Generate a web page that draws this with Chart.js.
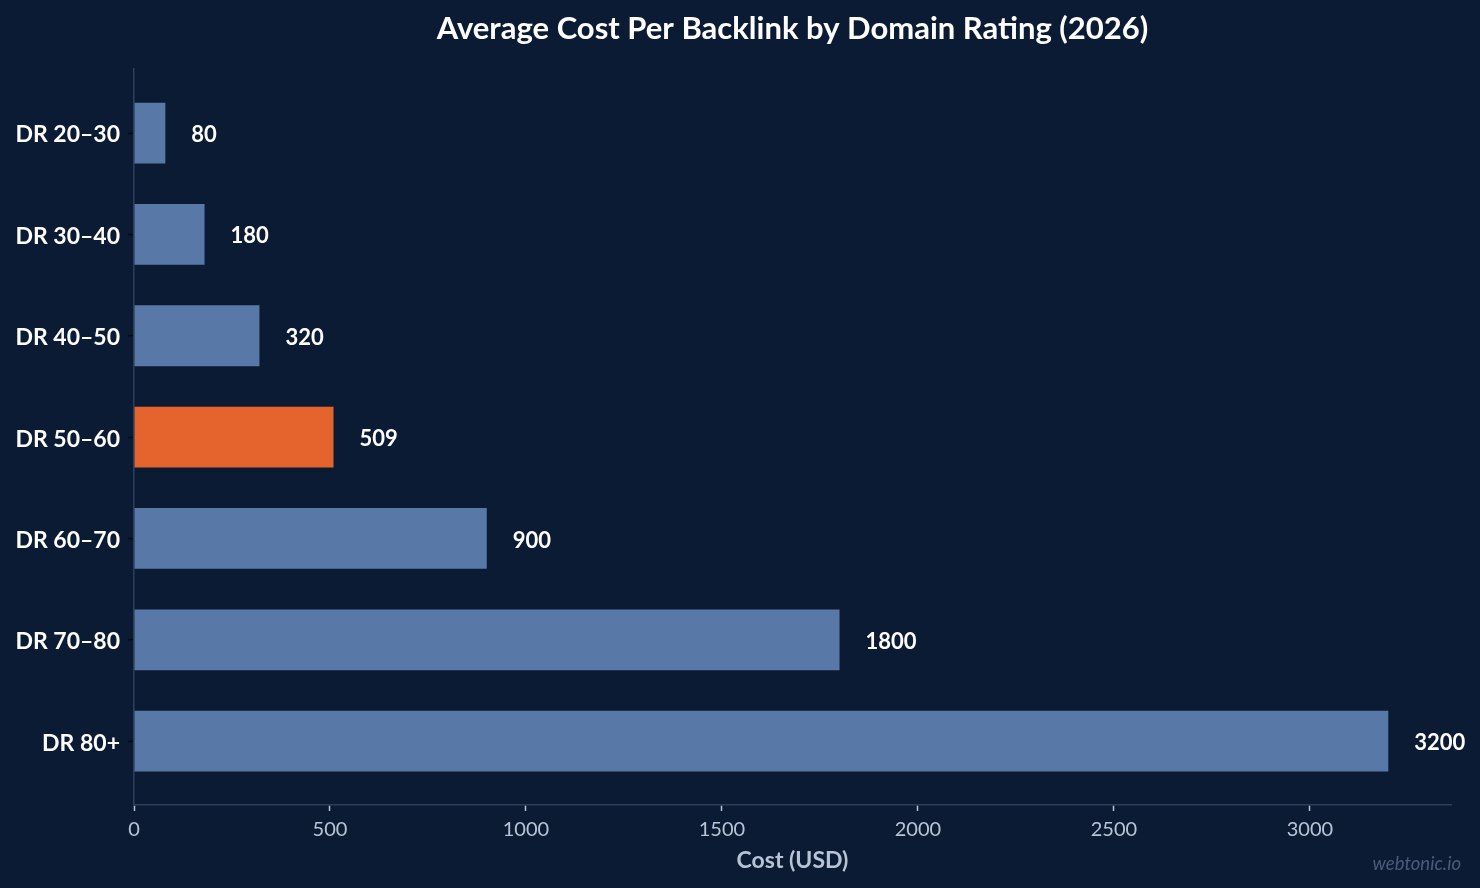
<!DOCTYPE html>
<html>
<head>
<meta charset="utf-8">
<script src="https://cdn.jsdelivr.net/npm/chart.js@4/dist/chart.umd.min.js"></script>
<style>
  html, body { margin: 0; padding: 0; background: #0c1b34; }
  #wrap { width: 1480px; height: 888px; position: relative; }
</style>
</head>
<body>
<div id="wrap"><canvas id="c" width="1480" height="888"></canvas></div>
<script>
const categories = ["DR 20–30", "DR 30–40", "DR 40–50", "DR 50–60", "DR 60–70", "DR 70–80", "DR 80+"];
const costs = [80, 180, 320, 509, 900, 1800, 3200];
const highlightIndex = 3;
const xTicks = [0, 500, 1000, 1500, 2000, 2500, 3000];
const xMax = 3360;

const BAR = '#5878a8';
const HIGHLIGHT = '#e5632c';
const FONT = 'Lato, "Open Sans", sans-serif';

const valueLabels = {
  id: 'valueLabels',
  afterDatasetsDraw(chart) {
    const ctx = chart.ctx;
    const meta = chart.getDatasetMeta(0);
    ctx.save();
    ctx.font = 'bold 22px ' + FONT;
    ctx.fillStyle = '#ffffff';
    ctx.textAlign = 'left';
    ctx.textBaseline = 'middle';
    meta.data.forEach((bar, i) => {
      ctx.fillText(String(costs[i]), bar.x + 26, bar.y + 2);
    });
    ctx.restore();
  },
  afterDraw(chart) {
    const ctx = chart.ctx;
    ctx.save();
    ctx.font = 'italic 18.5px ' + FONT;
    ctx.fillStyle = '#4b5b78';
    ctx.textAlign = 'right';
    ctx.textBaseline = 'middle';
    ctx.fillText('webtonic.io', 1461, 864);
    ctx.restore();
  }
};

new Chart(document.getElementById('c'), {
  type: 'bar',
  data: {
    datasets: [{
      data: costs.map((v, i) => ({ x: v, y: i })),
      backgroundColor: costs.map((_, i) => i === highlightIndex ? HIGHLIGHT : BAR),
      borderWidth: 0,
      barPercentage: 0.6,
      categoryPercentage: 1.0
    }]
  },
  options: {
    indexAxis: 'y',
    responsive: false,
    animation: false,
    layout: { padding: { left: 0, right: 29, top: 0, bottom: 0 } },
    plugins: {
      legend: { display: false },
      tooltip: { enabled: false },
      title: {
        display: true,
        fullSize: false,
        text: 'Average Cost Per Backlink by Domain Rating (2026)',
        color: '#ffffff',
        font: { family: FONT, size: 31, weight: 'bold' },
        padding: { top: 10, bottom: 22 }
      }
    },
    scales: {
      x: {
        type: 'linear',
        bounds: 'data',
        min: 0,
        max: xMax,
        afterFit(scale) { scale.height = 83; },
        afterBuildTicks(scale) { scale.ticks = xTicks.map(v => ({ value: v })); },
        ticks: {
          color: '#b8c4d6',
          font: { family: FONT, size: 20 },
          padding: 7,
          autoSkip: false,
          maxRotation: 0,
          callback: (v) => String(v)
        },
        grid: { display: true, drawOnChartArea: false, tickLength: 6, tickColor: '#b8c4d6', tickWidth: 1.5 },
        border: { display: true, color: '#2c3e5c', width: 1.5 },
        title: {
          display: true,
          text: 'Cost (USD)',
          color: '#b8c4d6',
          font: { family: FONT, size: 23, weight: 'bold' },
          padding: { top: 4, bottom: 14 }
        }
      },
      y: {
        type: 'linear',
        bounds: 'data',
        offset: false,
        reverse: true,
        min: -0.63,
        max: categories.length - 1 + 0.63,
        afterFit(scale) { scale.width = 134; },
        afterBuildTicks(scale) { scale.ticks = categories.map((_, i) => ({ value: i })); },
        ticks: {
          color: '#ffffff',
          font: { family: FONT, size: 23, weight: 'bold' },
          padding: 8,
          labelOffset: 2,
          autoSkip: false,
          callback: (v) => categories[v] ?? ''
        },
        grid: { display: true, offset: false, drawOnChartArea: false, tickLength: 6, tickColor: '#05080f', tickWidth: 1.5 },
        border: { display: true, color: '#2c3e5c', width: 1.5 }
      }
    }
  },
  plugins: [valueLabels]
});
</script>
</body>
</html>
